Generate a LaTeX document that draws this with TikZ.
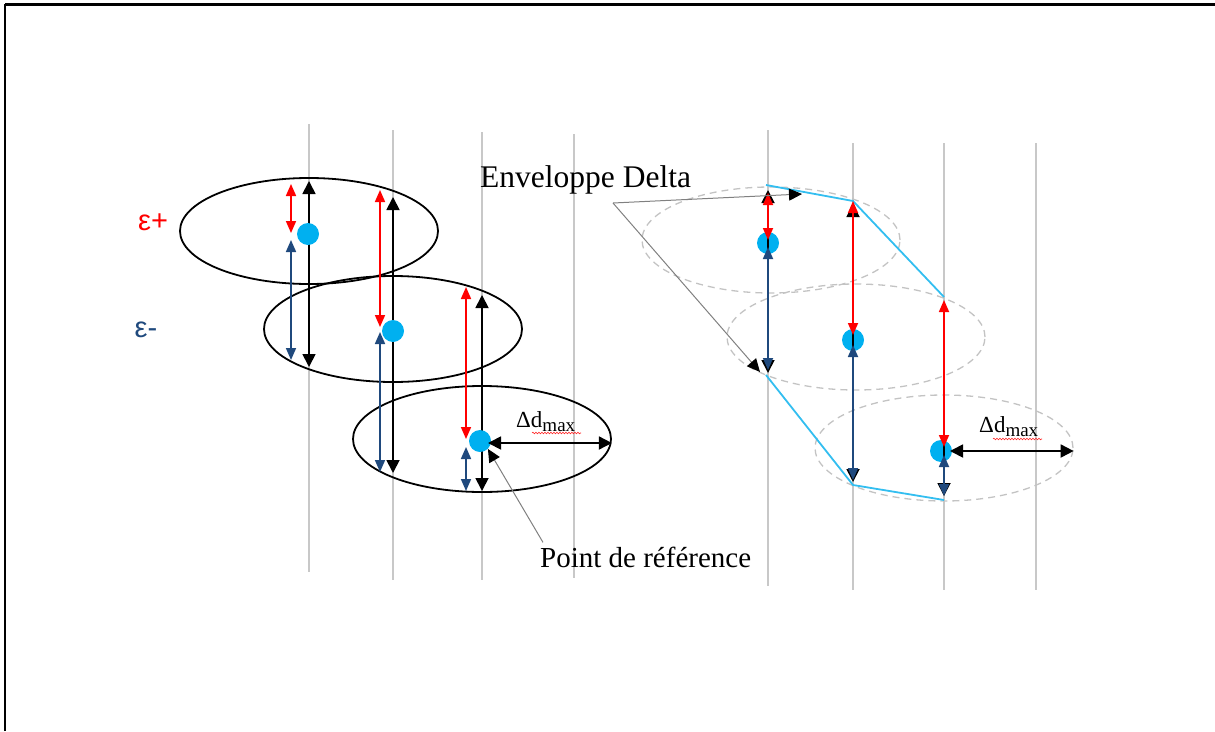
\documentclass[tikz,border=0pt]{standalone}
\usepackage{fontspec}
\setmainfont{Liberation Serif}
\newfontfamily\epsfont{Liberation Sans}
\usetikzlibrary{arrows.meta,shapes.geometric,decorations.pathmorphing}

\definecolor{epsred}{RGB}{255,0,0}
\definecolor{epsblue}{RGB}{31,73,125}
\definecolor{refcyan}{RGB}{0,176,240}
\definecolor{envcyan}{RGB}{51,190,240}
\definecolor{guidegray}{RGB}{200,200,200}
\definecolor{dashgray}{RGB}{195,195,195}

\tikzset{
  bighead/.tip={Triangle[length=13pt,width=13pt]},
  smallhead/.tip={Triangle[length=12pt,width=10pt]},
  guide/.style={draw=guidegray,line width=1.6pt},
  zone/.style={ellipse,draw=black,line width=1.8pt,minimum width=258pt,minimum height=106pt,inner sep=0pt},
  ghost/.style={ellipse,draw=dashgray,line width=1.3pt,dash pattern=on 7pt off 5pt,minimum width=258pt,minimum height=106pt,inner sep=0pt},
  refdot/.style={circle,fill=refcyan,inner sep=0pt,minimum size=22pt},
  span/.style={line width=1.8pt,black,bighead-bighead},
  upper/.style={line width=1.7pt,epsred,smallhead-smallhead},
  lower/.style={line width=1.7pt,epsblue,smallhead-smallhead},
  pointer/.style={draw=gray,line width=1pt,-{Triangle[length=13pt,width=12pt,color=black]}},
  envelope/.style={draw=envcyan,line width=1.8pt},
  lbl/.style={font=\fontsize{29}{32}\selectfont,inner sep=0pt},
  dlbl/.style={font=\fontsize{23}{25}\selectfont,inner sep=0pt},
  epslbl/.style={font=\epsfont\fontsize{29}{32}\selectfont,inner sep=0pt},
  spell/.style={draw=epsred!85,line width=0.6pt,decorate,decoration={snake,amplitude=0.8pt,segment length=3pt}}
}
\newcommand{\dmaxtext}{Δd\raisebox{-4pt}{\fontsize{19}{20}\selectfont max}}

\begin{document}
\begin{tikzpicture}[x=1pt,y=-1pt]
  \useasboundingbox (0,0) rectangle (1215,731);

  % cadre
  \draw[line width=2pt] (5,731) -- (5,5) -- (1215,5);
  \draw[line width=3pt] (5,4.5) -- (1215,4.5);

  % lignes verticales
  \draw[guide] (309,124) -- (309,572);
  \draw[guide] (393,130) -- (393,580);
  \draw[guide] (482,132) -- (482,580);
  \draw[guide] (574,134) -- (574,578);
  \draw[guide] (768,130) -- (768,586);
  \draw[guide] (853,143) -- (853,590);
  \draw[guide] (944,143) -- (944,590);
  \draw[guide] (1036,143) -- (1036,590);

  % zones de tolerance (gauche)
  \node[zone] (z1) at (309,231) {};
  \node[zone] (z2) at (393,329) {};
  \node[zone] (z3) at (482,439) {};

  % colonne 1
  \draw[span] (309,181) -- (309,367);
  \draw[upper] (291,184) -- (291,233);
  \draw[lower] (291,240) -- (291,360);
  % colonne 2
  \draw[span] (393,197) -- (393,473);
  \draw[upper] (380,190) -- (380,327);
  \draw[lower] (380,332) -- (380,472);
  % colonne 3
  \draw[span] (482,295) -- (482,491);
  \draw[upper] (466,287) -- (466,439);
  \draw[lower] (466,447) -- (466,491);

  \node[refdot] (d1) at (308,234) {};
  \node[refdot] (d2) at (393,331) {};
  \node[refdot] (d3) at (480,441) {};

  % Delta d max (gauche)
  \coordinate (dl) at (488,443);
  \draw[span] (dl) -- (dl -| z3.east);
  \node[dlbl,anchor=base west] (dmax1) at (516,427) {\dmaxtext};
  \draw[spell] (532,433) -- (581,433);

  % epsilons
  \node[epslbl,text=epsred] (epsp) at (153,222) {ε+};
  \node[epslbl,text=epsblue] (epsm) at (146,330) {ε-};

  % point de reference
  \node[lbl,anchor=base west] (ptref) at (540,567) {Point de référence};
  \draw[pointer] (ptref.north west) ++(3,-4) -- (d3.south east);

  % zones decalees (droite)
  \node[ghost] (g1) at (771,240) {};
  \node[ghost] (g2) at (856,337) {};
  \node[ghost] (g3) at (944,448) {};

  \node[refdot] (r1) at (768,243) {};
  \node[refdot] (r2) at (853,340) {};
  \node[refdot] (r3) at (941,451) {};

  % enveloppe
  \coordinate (t1) at (766,185);
  \coordinate (t2) at (853,201);
  \coordinate (t3) at (944,297);
  \coordinate (b1) at (766,375);
  \coordinate (b2) at (853,485);
  \coordinate (b3) at (944,500);
  \draw[envelope] (t1) -- (t2) -- (t3);
  \draw[envelope] (b1) -- (b2) -- (b3);

  % colonnes droite
  \draw[span] (768,190) -- (768,373);
  \draw[upper] (768,193) -- (768,240);
  \draw[lower] (768,247) -- (768,370);
  \draw[span] (853,204) -- (853,482);
  \draw[upper] (853,201) -- (853,335);
  \draw[lower] (853,345) -- (853,480);
  \draw[line width=1.8pt,black,-bighead] (944,320) -- (944,496);
  \draw[upper] (944,300) -- (944,447);
  \draw[lower] (944,455) -- (944,496);

  % Delta d max (droite)
  \coordinate (dr) at (950,451);
  \draw[span] (dr) -- (dr -| g3.east);
  \node[dlbl,anchor=base west] (dmax2) at (979,432) {\dmaxtext};
  \draw[spell] (993,439) -- (1042,439);

  % enveloppe delta
  \node[lbl,font=\fontsize{31.5}{34}\selectfont,anchor=base west] (envtxt) at (480,187) {Enveloppe Delta};
  \coordinate (envsrc) at (613,203);
  \coordinate (envA) at (802,194);
  \coordinate (envB) at (760,372);
  \draw[pointer] (envsrc) -- (envA);
  \draw[pointer] (envsrc) -- (envB);
\end{tikzpicture}
\end{document}
